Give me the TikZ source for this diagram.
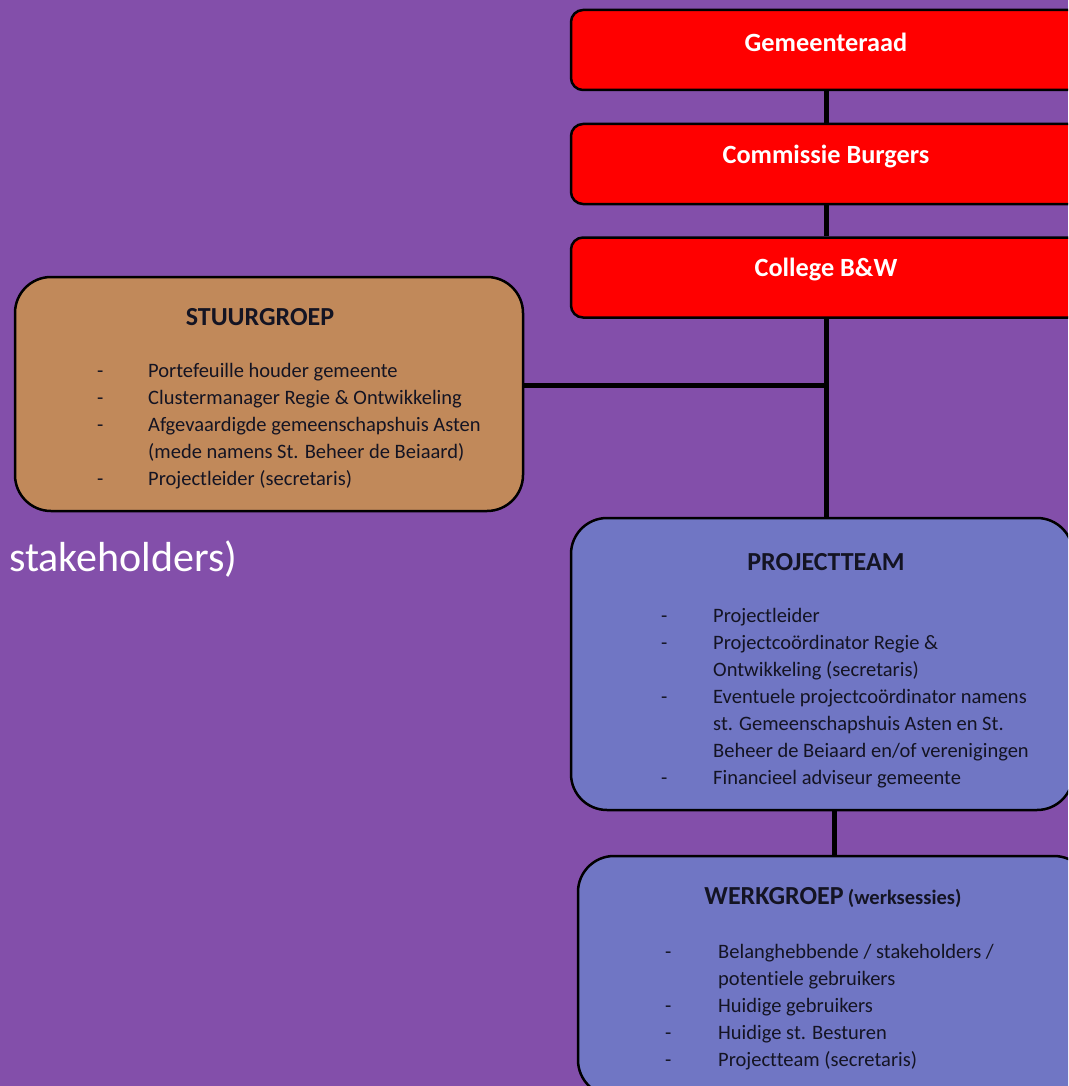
\documentclass[tikz,border=0pt]{standalone}
\usepackage{fontspec}
\setmainfont{Carlito}[Ligatures=NoCommon]
\definecolor{bgpurple}{RGB}{131,79,170}
\definecolor{boxred}{RGB}{255,0,0}
\definecolor{boxbrown}{RGB}{193,137,90}
\definecolor{boxblue}{RGB}{112,118,196}
\definecolor{txtdark}{RGB}{20,20,35}
\tikzset{
  redbox/.style={draw=black, line width=2.5pt, fill=boxred, rounded corners=12pt, minimum width=510pt, minimum height=80pt, inner sep=0pt},
  bigbox/.style={draw=black, line width=2.5pt, rounded corners=36pt, inner sep=0pt},
  conn/.style={draw=black, line width=5pt},
  redtitle/.style={text=white, font=\fontsize{26.3}{30}\selectfont\bfseries, inner sep=0pt},
  title/.style={text=txtdark, font=\fontsize{26}{30}\selectfont\bfseries, inner sep=0pt},
  listtxt/.style={text=txtdark, font=\fontsize{20.5}{27}\selectfont, inner sep=0pt, anchor=base west, align=left},
}
\begin{document}
\begin{tikzpicture}[x=1pt,y=-1pt]
\fill[bgpurple] (0,0) rectangle (1068,1086);
\useasboundingbox (0,0) rectangle (1068,1086);
\clip (0,0) rectangle (1068,1086);
% boxes
\node[redbox] (gem) at (826,50) {};
\node[redbox] (com) at (826,164) {};
\node[redbox] (col) at (826,277.5) {};
\node[bigbox, fill=boxbrown, minimum width=508pt, minimum height=234pt] (stg) at (269,394) {};
\node[bigbox, fill=boxblue, minimum width=502pt, minimum height=292pt] (pt) at (822,664) {};
\node[bigbox, fill=boxblue, minimum width=512pt, minimum height=240pt] (wg) at (834,976) {};
% connectors
\coordinate (j) at (826,385);
\draw[conn] (gem.south) -- (com.north);
\draw[conn] (com.south) -- (col.north);
\draw[conn] (col.south) -- (col.south |- pt.north);
\draw[conn] (stg.east |- j) -- (j);
\draw[conn] (wg.north) -- (wg.north |- pt.south);
% titles
\node[redtitle] (tgem) at (826,42) {Gemeenteraad};
\node[redtitle] (tcom) at (826,157) {Commissie Burgers};
\node[redtitle] (tcol) at (826,270) {College B\&W};
\node[title] (tstg) at (260,317) {STUURGROEP};
\node[title] (tpt) at (826,562) {PROJECTTEAM};
\node[title] (twg) at (833,898) {WERKGROEP\,{\fontsize{20.5}{24}\selectfont(werksessies)}};
% lists
\node[listtxt] (lstg) at (97,377) {\begin{tabular}[t]{@{}p{51pt}@{}l@{}}
-&Portefeuille houder gemeente\\
-&Clustermanager Regie \& Ontwikkeling\\
-&Afgevaardigde gemeenschapshuis Asten\\
&(mede namens St. Beheer de Beiaard)\\
-&Projectleider (secretaris)
\end{tabular}};
\node[listtxt] (lpt) at (661,622) {\begin{tabular}[t]{@{}p{52pt}@{}l@{}}
-&Projectleider\\
-&Projectcoördinator Regie \&\\
&Ontwikkeling (secretaris)\\
-&Eventuele projectcoördinator namens\\
&st. Gemeenschapshuis Asten en St.\\
&Beheer de Beiaard en/of verenigingen\\
-&Financieel adviseur gemeente
\end{tabular}};
\node[listtxt] (lwg) at (665,958) {\begin{tabular}[t]{@{}p{53pt}@{}l@{}}
-&Belanghebbende / stakeholders /\\
&potentiele gebruikers\\
-&Huidige gebruikers\\
-&Huidige st. Besturen\\
-&Projectteam (secretaris)
\end{tabular}};
% stray text
\node[text=white, font=\fontsize{42}{48}\selectfont, inner sep=0pt, anchor=base west] (stk) at (9,571) {stakeholders)};
\end{tikzpicture}
\end{document}
